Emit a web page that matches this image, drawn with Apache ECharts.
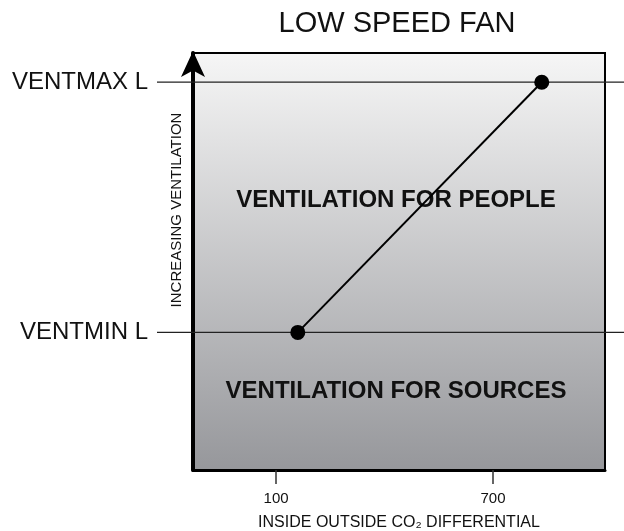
<!DOCTYPE html>
<html>
<head>
<meta charset="utf-8">
<script src="https://cdn.jsdelivr.net/npm/echarts@6/dist/echarts.min.js"></script>
<style>
  html, body { margin: 0; padding: 0; background: #fff; }
  #chart { width: 624px; height: 531px; }
</style>
</head>
<body>
<div id="chart"></div>
<script>
// Control curve: ventilation rises from the minimum to the maximum setpoint
// as the inside/outside CO2 differential grows.
const titleText = 'LOW SPEED FAN';
const xTickValues = [100, 700];
const curveX = [160, 835];
const curveY = [33, 93];
const levelNames = ['VENTMIN L', 'VENTMAX L'];
const levelValues = [33, 93];
const zoneNames = ['VENTILATION FOR PEOPLE', 'VENTILATION FOR SOURCES'];
const xAxisName = 'INSIDE OUTSIDE CO\u2082 DIFFERENTIAL';
const yAxisName = 'INCREASING VENTILATION';

const FONT = 'Liberation Sans, Arial, Helvetica, sans-serif';

const chart = echarts.init(document.getElementById('chart'), null, { renderer: 'canvas' });

const option = {
  animation: false,
  grid: {
    left: 193, right: 19, top: 53, bottom: 61,
    outerBoundsMode: 'none',
    containLabel: false,
    show: true,
    borderColor: '#000',
    borderWidth: 2,
    backgroundColor: new echarts.graphic.LinearGradient(0, 0, 0, 1, [
      { offset: 0, color: '#f6f6f6' },
      { offset: 1, color: '#96979b' }
    ])
  },
  xAxis: {
    type: 'value',
    min: -130,
    max: 1010,
    splitLine: { show: false },
    axisLine: { show: true, onZero: false, lineStyle: { color: '#000', width: 3 } },
    axisTick: {
      show: true, customValues: xTickValues, length: 14, inside: false,
      lineStyle: { color: '#333', width: 1.5 }
    },
    axisLabel: {
      customValues: xTickValues, margin: 21,
      fontFamily: FONT, fontSize: 15, color: '#111'
    },
    name: xAxisName,
    nameLocation: 'middle',
    nameGap: 45,
    nameTextStyle: { fontFamily: FONT, fontSize: 16, color: '#111' }
  },
  yAxis: {
    type: 'value',
    min: 0,
    max: 100,
    splitLine: { show: false },
    axisTick: { show: false },
    axisLabel: { show: false },
    axisLine: {
      show: true,
      onZero: false,
      symbol: ['none', 'arrow'],
      symbolSize: [18, 26],
      symbolOffset: [0, 2],
      lineStyle: { color: '#000', width: 4 }
    }
  },
  series: [{
    type: 'line',
    data: curveX.map((x, i) => [x, curveY[i]]),
    symbol: 'circle',
    symbolSize: 15,
    itemStyle: { color: '#000' },
    lineStyle: { color: '#000', width: 2 },
    z: 5
  }]
};
chart.setOption(option);

// Setpoint lines run past the frame on both sides; their height comes from the y scale.
const graphics = [];
levelValues.forEach((v, i) => {
  const y = chart.convertToPixel({ yAxisIndex: 0 }, v);
  graphics.push({
    type: 'line', z: 4,
    shape: { x1: 157, y1: y, x2: 624, y2: y },
    style: { stroke: '#222', lineWidth: 1.3 }
  });
  graphics.push({
    type: 'text', z: 4,
    style: {
      text: levelNames[i], x: 148, y: y, align: 'right', verticalAlign: 'middle',
      font: '24px ' + FONT, fill: '#111'
    }
  });
});

const midX = (chart.convertToPixel({ xAxisIndex: 0 }, -130) + chart.convertToPixel({ xAxisIndex: 0 }, 1010)) / 2;
const yPeople = chart.convertToPixel({ yAxisIndex: 0 }, 64.7);
const ySources = chart.convertToPixel({ yAxisIndex: 0 }, 18.9);
[[zoneNames[0], yPeople], [zoneNames[1], ySources]].forEach(([t, y]) => {
  graphics.push({
    type: 'text', z: 3,
    style: {
      text: t, x: midX - 3, y: y, align: 'center', verticalAlign: 'middle',
      font: 'bold 24px ' + FONT, fill: '#111'
    }
  });
});

graphics.push({
  type: 'text', z: 3,
  x: 177, y: 210, rotation: Math.PI / 2,
  style: {
    text: yAxisName, x: 0, y: 0, align: 'center', verticalAlign: 'middle',
    font: '15px ' + FONT, fill: '#111'
  }
});

graphics.push({
  type: 'text', z: 3,
  style: {
    text: titleText, x: 397, y: 24, align: 'center', verticalAlign: 'middle',
    font: '29px ' + FONT, fill: '#111'
  }
});

chart.setOption({ graphic: graphics });
</script>
</body>
</html>
